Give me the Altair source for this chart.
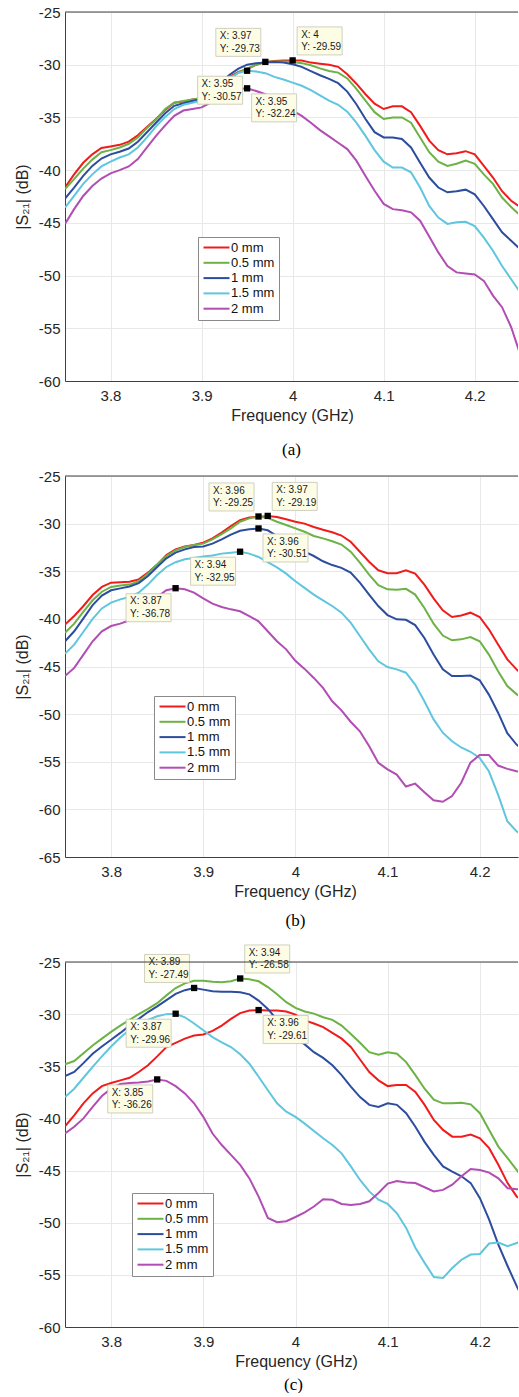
import altair as alt
import pandas as pd

FREQ = [3.75, 3.76, 3.77, 3.78, 3.79, 3.80, 3.81, 3.82, 3.83, 3.84,
        3.85, 3.86, 3.87, 3.88, 3.89, 3.90, 3.91, 3.92, 3.93, 3.94,
        3.95, 3.96, 3.97, 3.98, 3.99, 4.00, 4.01, 4.02, 4.03, 4.04,
        4.05, 4.06, 4.07, 4.08, 4.09, 4.10, 4.11, 4.12, 4.13, 4.14,
        4.15, 4.16, 4.17, 4.18, 4.19, 4.20, 4.21, 4.22, 4.23, 4.24, 4.25]

SERIES = ["0 mm", "0.5 mm", "1 mm", "1.5 mm", "2 mm"]
COLORS = ["#f01c1c", "#6cb245", "#2c4c9e", "#5fc6de", "#b14db3"]

# ---- panel (a) ----
A_0 = [-41.65, -40.4, -39.3, -38.5, -37.9, -37.75, -37.6, -37.3, -36.7, -35.9,
       -35.15, -34.3, -33.6, -33.5, -33.3, -33.2, -32.7, -31.9, -31.2, -30.7,
       -30.4, -30.0, -29.75, -29.65, -29.6, -29.59, -29.6, -29.8, -29.9, -30.0,
       -30.2, -30.9, -31.8, -32.8, -33.7, -34.2, -33.95, -33.95, -34.5, -35.8,
       -37.2, -38.1, -38.5, -38.4, -38.2, -38.5, -39.6, -40.7, -42.0, -42.9, -43.5]
A_05 = [-41.8, -40.85, -39.85, -39.0, -38.3, -38.1, -37.85, -37.5, -36.9, -36.0,
        -35.2, -34.2, -33.6, -33.45, -33.3, -33.15, -32.7, -32.0, -31.3, -30.75,
        -30.4, -30.0, -29.73, -29.7, -29.7, -29.75, -29.85, -30.05, -30.35, -30.6,
        -30.75, -31.3, -32.3, -33.4, -34.5, -35.15, -35.0, -35.0, -35.5, -36.9,
        -38.3, -39.2, -39.6, -39.4, -39.1, -39.4, -40.4, -41.3, -42.6, -43.5, -44.3]
A_1 = [-42.7, -41.65, -40.55, -39.6, -38.9, -38.5, -38.25, -37.95, -37.3, -36.4,
       -35.5, -34.6, -33.9, -33.65, -33.45, -33.25, -32.7, -31.8, -31.0, -30.4,
       -30.0, -29.85, -29.8, -29.75, -29.8, -29.95, -30.2, -30.6, -31.0, -31.35,
       -31.75, -32.55, -33.75, -35.15, -36.4, -36.9, -36.9, -37.05, -37.85, -39.3,
       -40.7, -41.65, -42.1, -42.0, -41.85, -42.3, -43.4, -44.65, -45.9, -46.7, -47.5]
A_15 = [-43.55, -42.45, -41.3, -40.4, -39.65, -39.2, -38.8, -38.5, -37.85, -36.9,
        -35.85, -34.95, -34.2, -33.8, -33.6, -33.4, -32.9, -32.15, -31.4, -30.8,
        -30.57, -30.65, -30.8, -31.15, -31.4, -31.7, -32.0, -32.4, -32.9, -33.4,
        -33.8, -34.45, -35.5, -36.75, -38.1, -39.2, -39.75, -39.75, -40.2, -41.65,
        -43.4, -44.5, -45.1, -44.95, -44.9, -45.3, -46.4, -47.65, -49.1, -50.35, -51.6]
A_2 = [-45.1, -43.7, -42.45, -41.5, -40.8, -40.3, -40.0, -39.65, -38.95, -37.85,
       -36.75, -35.75, -34.85, -34.35, -34.2, -34.05, -33.6, -32.95, -32.5, -32.3,
       -32.24, -32.5, -32.8, -33.25, -33.8, -34.35, -34.85, -35.5, -36.2, -36.8,
       -37.4, -38.0, -39.1, -40.55, -41.95, -43.2, -43.7, -43.8, -44.0, -44.8,
       -46.3, -47.8, -49.1, -49.7, -49.8, -49.9, -50.5, -51.9, -53.0, -54.9, -57.5]

# ---- panel (b) ----
B_0 = [-40.6, -39.7, -38.65, -37.5, -36.65, -36.2, -36.15, -36.1, -35.85, -35.15,
       -34.3, -33.3, -32.7, -32.4, -32.25, -32.0, -31.55, -30.95, -30.25, -29.65,
       -29.35, -29.3, -29.19, -29.3, -29.55, -29.8, -30.0, -30.35, -30.65, -30.9,
       -31.25, -31.9, -32.95, -34.0, -34.9, -35.2, -35.2, -34.9, -35.25, -36.4,
       -37.85, -39.1, -39.8, -39.65, -39.35, -39.8, -41.1, -42.7, -44.25, -45.3, -46.2]
B_05 = [-41.45, -40.5, -39.25, -38.05, -37.15, -36.65, -36.5, -36.4, -36.05, -35.25,
        -34.3, -33.4, -32.8, -32.45, -32.25, -32.1, -31.65, -31.1, -30.5, -29.8,
        -29.45, -29.25, -29.4, -29.8, -30.15, -30.5, -30.85, -31.3, -31.55, -31.85,
        -32.2, -32.95, -34.1, -35.35, -36.45, -36.9, -36.95, -36.85, -37.45, -38.85,
        -40.5, -41.75, -42.25, -42.15, -41.9, -42.35, -43.75, -45.5, -47.05, -47.9, -48.65]
B_1 = [-42.35, -41.3, -39.95, -38.55, -37.55, -37.0, -36.8, -36.6, -36.25, -35.5,
       -34.55, -33.65, -33.05, -32.7, -32.45, -32.4, -32.1, -31.65, -31.15, -30.75,
       -30.6, -30.51, -30.7, -31.3, -31.9, -32.45, -32.95, -33.4, -33.95, -34.35,
       -34.65, -35.15, -36.2, -37.45, -38.65, -39.6, -40.05, -40.1, -40.65, -42.0,
       -43.75, -45.3, -46.0, -46.0, -45.95, -46.45, -47.95, -49.85, -52.0, -53.2, -53.9]
B_15 = [-43.65, -42.7, -41.35, -40.0, -38.9, -38.3, -37.95, -37.7, -37.25, -36.4,
        -35.4, -34.55, -34.05, -33.75, -33.6, -33.45, -33.35, -33.15, -33.05, -32.95,
        -33.15, -33.5, -34.05, -34.6, -35.25, -36.05, -36.75, -37.45, -38.05, -38.65,
        -39.35, -40.4, -41.8, -43.2, -44.45, -45.05, -45.3, -45.65, -46.9, -48.65,
        -50.55, -51.95, -52.85, -53.5, -53.95, -54.6, -56.0, -58.45, -61.25, -62.3, -63.0]
B_2 = [-46.0, -45.15, -43.75, -42.35, -41.3, -40.75, -40.5, -40.15, -39.55, -38.65,
       -37.7, -37.0, -36.78, -36.9, -37.25, -37.85, -38.4, -38.75, -39.0, -39.2,
       -39.7, -40.25, -41.3, -42.35, -43.2, -44.4, -45.25, -46.2, -47.25, -48.65,
       -49.6, -50.8, -51.8, -53.35, -55.1, -55.8, -56.35, -57.6, -57.3, -58.2,
       -59.05, -59.2, -58.6, -57.2, -55.1, -54.3, -54.3, -55.4, -55.75, -56.0, -56.2]

# ---- panel (c) ----
C_0 = [-40.75, -39.7, -38.55, -37.6, -36.9, -36.6, -36.35, -36.1, -35.55, -34.9,
       -34.05, -33.15, -32.75, -32.35, -32.05, -31.95, -31.6, -31.1, -30.45, -29.9,
       -29.65, -29.61, -29.65, -29.65, -29.75, -30.05, -30.6, -30.9, -31.25, -31.8,
       -32.35, -33.15, -34.35, -35.55, -36.35, -36.9, -36.8, -36.8, -37.45, -38.7,
       -40.15, -41.1, -41.75, -41.75, -41.55, -41.9, -42.85, -44.45, -46.2, -47.5, -47.95]
C_05 = [-34.8, -34.5, -33.75, -33.0, -32.35, -31.7, -31.1, -30.55, -30.0, -29.5,
        -28.95, -28.2, -27.5, -27.05, -26.8, -26.8, -26.9, -26.95, -26.85, -26.58,
        -26.65, -26.85, -27.4, -28.1, -28.85, -29.4, -29.75, -29.95, -30.3, -30.55,
        -31.1, -31.9, -32.75, -33.65, -33.9, -33.65, -33.8, -34.6, -35.85, -37.15,
        -38.2, -38.55, -38.55, -38.5, -38.65, -39.5, -41.1, -42.7, -43.8, -44.95, -46.05]
C_1 = [-35.95, -35.55, -34.7, -33.8, -33.1, -32.45, -31.8, -31.1, -30.45, -29.8,
       -29.25, -28.65, -28.05, -27.7, -27.49, -27.65, -27.8, -27.85, -27.85, -27.9,
       -28.1, -28.7, -29.5, -30.55, -31.55, -32.2, -32.9, -33.65, -34.2, -34.9,
       -35.85, -36.95, -37.95, -38.7, -38.9, -38.55, -38.7, -39.5, -40.8, -42.25,
       -43.5, -44.6, -45.1, -45.55, -46.2, -47.65, -49.7, -52.1, -54.15, -56.1, -57.85]
C_15 = [-37.95, -37.15, -36.1, -35.05, -34.05, -33.1, -32.25, -31.5, -30.9, -30.55,
        -30.2, -30.0, -29.96, -30.3, -30.9, -31.55, -32.2, -32.7, -33.15, -33.85,
        -34.75, -36.0, -37.3, -38.55, -39.35, -39.85, -40.5, -41.2, -41.9, -42.55,
        -43.35, -44.6, -45.9, -47.0, -47.8, -48.2, -49.1, -50.5, -52.4, -53.85,
        -55.2, -55.3, -54.35, -53.55, -53.05, -53.0, -52.0, -51.9, -52.25, -51.95, -51.45]
C_2 = [-41.45, -40.8, -40.0, -38.9, -37.85, -37.15, -36.7, -36.6, -36.55, -36.45,
       -36.26, -36.4, -36.9, -37.6, -38.55, -39.85, -41.45, -42.55, -43.5, -44.45,
       -45.75, -47.5, -49.55, -49.95, -49.85, -49.45, -49.0, -48.45, -47.75, -47.8,
       -48.2, -48.3, -48.2, -47.95, -47.15, -46.25, -46.0, -46.15, -46.2, -46.6,
       -47.0, -46.85, -46.35, -45.55, -44.85, -44.95, -45.2, -45.75, -46.7, -46.8, -46.7]

# ---- data tips (values) ----
TIP_A_X = [3.97, 4.0, 3.95, 3.95]
TIP_A_Y = [-29.73, -29.59, -30.57, -32.24]
TIP_B_X = [3.96, 3.97, 3.96, 3.94, 3.87]
TIP_B_Y = [-29.25, -29.19, -30.51, -32.95, -36.78]
TIP_C_X = [3.89, 3.94, 3.96, 3.87, 3.85]
TIP_C_Y = [-27.49, -26.58, -29.61, -29.96, -36.26]

# ---- data tip placement (layout only) ----
TIP_A_POS = ["nw", "ne", "sw", "se"]
TIP_B_POS = ["nw", "ne", "se", "sw", "sw"]
TIP_C_POS = ["nw", "ne", "se", "sw", "sw"]

XTICKS = [3.8, 3.9, 4.0, 4.1, 4.2]
YTICKS_A = [-60, -55, -50, -45, -40, -35, -30, -25]
YTICKS_B = [-65, -60, -55, -50, -45, -40, -35, -30, -25]
YTICKS_C = [-60, -55, -50, -45, -40, -35, -30, -25]

FONT = "Liberation Sans"
BOX_W, BOX_H = 45, 28
OFFSETS = {"nw": (-27, -19.5), "ne": (27, -19.5), "sw": (-27, 19.5), "se": (27, 19.5)}
PLOT_W = 453


def series_frame(curves):
    rows = []
    for name, vals in zip(SERIES, curves):
        for f, v in zip(FREQ, vals):
            rows.append({"f": f, "v": v, "s": name})
    return pd.DataFrame(rows)


def panel(curves, tip_x, tip_y, tip_pos, ydom, yticks, xmax, h, legend_xy,
          caption, cap_offset, cap_dx, title_x):
    x = alt.X("f:Q",
              scale=alt.Scale(domain=[3.75, xmax], nice=False, zero=False),
              axis=alt.Axis(values=XTICKS, labelExpr="datum.value + ''",
                            title="Frequency (GHz)", titleX=title_x,
                            ticks=False, tickSize=0, labelPadding=7,
                            titlePadding=4, grid=True))
    y = alt.Y("v:Q",
              scale=alt.Scale(domain=ydom, nice=False, zero=False),
              axis=alt.Axis(values=yticks, labelExpr="datum.value + ''",
                            title="|S₂₁| (dB)", ticks=False, tickSize=0,
                            labelPadding=5, titlePadding=8, grid=True))
    lines = alt.Chart(series_frame(curves)).mark_line(strokeWidth=2, clip=True).encode(
        x=x, y=y,
        color=alt.Color("s:N",
                        scale=alt.Scale(domain=SERIES, range=COLORS),
                        sort=SERIES,
                        legend=alt.Legend(orient="none", legendX=legend_xy[0],
                                          legendY=legend_xy[1], title=None,
                                          symbolType="M-6.5,0H6.5", symbolSize=16,
                                          symbolStrokeWidth=2, symbolOffset=8,
                                          labelOffset=8, labelFont=FONT,
                                          labelFontSize=13, labelColor="#111111",
                                          padding=4, rowPadding=1.3,
                                          strokeColor="#8a8a8a", fillColor="white")))
    layers = [lines]
    tips = pd.DataFrame({
        "f": tip_x, "v": tip_y, "p": tip_pos,
        "xl": ["X: " + f"{t:g}" for t in tip_x],
        "yl": ["Y: " + f"{t:.2f}" for t in tip_y],
    })
    for pos, (dx, dy) in OFFSETS.items():
        sub = tips[tips["p"] == pos]
        if sub.empty:
            continue
        base = alt.Chart(sub).encode(x=x, y=y)
        box = base.mark_rect(width=BOX_W, height=BOX_H, xOffset=dx, yOffset=dy,
                             fill="#fdfde6", stroke="#c4c4b4", strokeWidth=0.8)
        tx = base.mark_text(align="left", baseline="middle", font=FONT, fontSize=10,
                            color="#1a1a1a", dx=dx - BOX_W / 2 + 4, dy=dy - 6.3
                            ).encode(text="xl:N")
        ty = base.mark_text(align="left", baseline="middle", font=FONT, fontSize=10,
                            color="#1a1a1a", dx=dx - BOX_W / 2 + 4, dy=dy + 6.3
                            ).encode(text="yl:N")
        layers += [box, tx, ty]
    markers = alt.Chart(tips).mark_square(size=40, color="black", opacity=1).encode(x=x, y=y)
    top = alt.Chart(pd.DataFrame({"k": [0]})).mark_rule(color="#404040", strokeWidth=1).encode(
        y=alt.value(0))
    layers += [markers, top]
    return alt.layer(*layers).properties(
        width=PLOT_W, height=h,
        title=alt.Title(caption, orient="bottom", frame="group", anchor="middle",
                        font="Liberation Serif", fontSize=17, fontWeight="normal",
                        color="#000000", offset=cap_offset, dx=cap_dx))


pa = panel([A_0, A_05, A_1, A_15, A_2], TIP_A_X, TIP_A_Y, TIP_A_POS, [-60, -25], YTICKS_A,
           4.2475, 369, (133, 225), "(a)", 19, 0, 227)
pb = panel([B_0, B_05, B_1, B_15, B_2], TIP_B_X, TIP_B_Y, TIP_B_POS, [-65, -25], YTICKS_B,
           4.2416, 381, (89, 220), "(b)", 14, 4, 230)
pc = panel([C_0, C_05, C_1, C_15, C_2], TIP_C_X, TIP_C_Y, TIP_C_POS, [-60, -25], YTICKS_C,
           4.2413, 365, (67, 231), "(c)", 8, 2, 231)

upper = alt.vconcat(pa, pb, spacing=11).resolve_scale(
    color="independent", x="independent", y="independent").resolve_legend(color="independent")
chart = alt.vconcat(upper, pc, spacing=15).resolve_scale(
    color="independent", x="independent", y="independent").resolve_legend(color="independent")

chart = chart.properties(
    padding={"left": 14, "top": 5, "right": 0, "bottom": 0},
    background="white",
).configure_view(stroke=None).configure_axis(
    labelFont=FONT, titleFont=FONT, labelFontSize=15, titleFontSize=16,
    titleFontWeight="normal", labelColor="#262626", titleColor="#262626",
    gridColor="#e8e8e8", gridWidth=1, domainColor="#404040", domainWidth=1,
)

chart.save("out.html", embed_options={"renderer": "svg", "actions": False})
